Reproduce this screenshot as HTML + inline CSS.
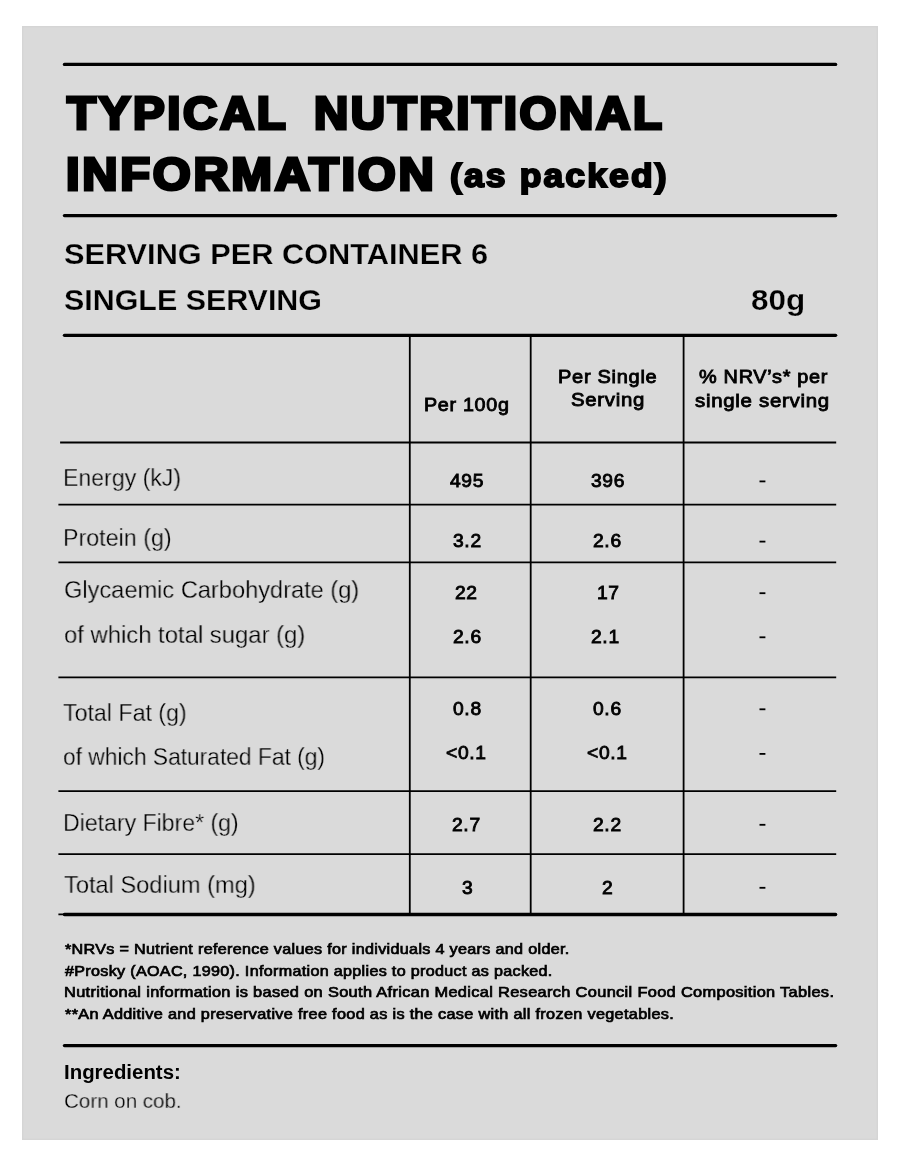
<!DOCTYPE html>
<html lang="en"><head><meta charset="utf-8"><title>Typical Nutritional Information</title>
<style>
html,body{margin:0;padding:0;background:#fff;}
body{width:900px;height:1175px;position:relative;overflow:hidden;font-family:"Liberation Sans",sans-serif;color:#000;}
.panel{position:absolute;left:22px;top:26px;width:855.7px;height:1113.5px;background:#dadada;box-shadow:inset 0 0 0 1.5px #d5d5d5;}
.t{position:absolute;white-space:nowrap;line-height:1;transform-origin:0 0;margin:0;padding:0;will-change:transform;}
.t svg{display:block;overflow:visible;}
.ln{position:absolute;left:0;top:0;}
.h{font-weight:700;letter-spacing:0.055em;word-spacing:0.22em;}
.h2{font-weight:700;letter-spacing:0.06em;}
.m{font-weight:700;-webkit-text-stroke:0.25px #dadada;}
.m2{font-weight:400;-webkit-text-stroke:0.85px #000;letter-spacing:0.035em;}
.m3{font-weight:400;-webkit-text-stroke:0.72px #000;letter-spacing:0.02em;}
.b{font-weight:700;}
.l{font-weight:400;-webkit-text-stroke:0.32px #dadada;}
.l2{font-weight:400;-webkit-text-stroke:0.3px #dadada;}
</style></head><body>
<div class="panel"></div>
<svg class="ln" width="900" height="1175" viewBox="0 0 900 1175">
<g stroke="#000" fill="none" stroke-width="1.80" stroke-linecap="butt">
<line x1="409.80" y1="335" x2="409.80" y2="914.5"/>
<line x1="530.70" y1="335" x2="530.70" y2="914.5"/>
<line x1="683.60" y1="335" x2="683.60" y2="914.5"/>
<line x1="60.10" y1="442.50" x2="836.20" y2="442.50"/>
<line x1="58.40" y1="504.60" x2="836.20" y2="504.60"/>
<line x1="58.40" y1="562.30" x2="836.20" y2="562.30"/>
<line x1="58.40" y1="677.30" x2="836.20" y2="677.30"/>
<line x1="58.40" y1="791.10" x2="836.20" y2="791.10"/>
<line x1="58.40" y1="854.20" x2="836.20" y2="854.20"/>
<line x1="58.40" y1="914.30" x2="836.20" y2="914.30"/>
</g>
<g stroke="#000" fill="none" stroke-width="3.30" stroke-linecap="round">
<line x1="64.45" y1="64.40" x2="835.65" y2="64.40"/>
<line x1="64.45" y1="215.60" x2="835.65" y2="215.60"/>
<line x1="64.45" y1="335.30" x2="835.65" y2="335.30"/>
<line x1="64.45" y1="914.50" x2="835.65" y2="914.50"/>
<line x1="64.45" y1="1045.60" x2="835.65" y2="1045.60"/>
</g>
<g fill="#000">
<rect x="759.5" y="480.50" width="5.9" height="1.8"/>
<rect x="759.5" y="540.70" width="5.9" height="1.8"/>
<rect x="759.5" y="592.30" width="5.9" height="1.8"/>
<rect x="759.5" y="636.40" width="5.9" height="1.8"/>
<rect x="759.5" y="708.40" width="5.9" height="1.8"/>
<rect x="759.5" y="753.00" width="5.9" height="1.8"/>
<rect x="759.5" y="823.90" width="5.9" height="1.8"/>
<rect x="759.5" y="886.90" width="5.9" height="1.8"/>
</g>
</svg>
<div class="t h" style="left:66.92px;top:128.81px;font-size:46.00px;transform:scaleX(1.0328)"><svg width="1" height="1"><text x="0" y="0" stroke="#000" stroke-width="3.2" stroke-linejoin="miter" stroke-miterlimit="3">TYPICAL NUTRITIONAL</text></svg></div>
<div class="t h" style="left:66.31px;top:189.61px;font-size:46.00px;transform:scaleX(1.0618)"><svg width="1" height="1"><text x="0" y="0" stroke="#000" stroke-width="3.2" stroke-linejoin="miter" stroke-miterlimit="3">INFORMATION</text></svg></div>
<div class="t h2" style="left:449.56px;top:187.04px;font-size:33.50px;transform:scaleX(1.0599)"><svg width="1" height="1"><text x="0" y="0" stroke="#000" stroke-width="2.0" stroke-linejoin="miter" stroke-miterlimit="3">(as packed)</text></svg></div>
<div class="t m" style="left:63.73px;top:238.63px;font-size:29.30px;transform:scaleX(1.0488)">SERVING PER CONTAINER 6</div>
<div class="t m" style="left:63.82px;top:285.03px;font-size:29.30px;transform:scaleX(1.0378)">SINGLE SERVING</div>
<div class="t m" style="left:751.37px;top:284.83px;font-size:29.30px;transform:scaleX(1.0730)">80g</div>
<div class="t m2" style="left:423.69px;top:396.00px;font-size:18.50px;transform:scaleX(1.0668)">Per 100g</div>
<div class="t m2" style="left:557.69px;top:368.00px;font-size:18.50px;transform:scaleX(1.0822)">Per Single</div>
<div class="t m2" style="left:570.54px;top:391.00px;font-size:18.50px;transform:scaleX(1.1011)">Serving</div>
<div class="t m2" style="left:698.66px;top:368.00px;font-size:18.50px;transform:scaleX(1.0746)">% NRV’s* per</div>
<div class="t m2" style="left:695.28px;top:392.00px;font-size:18.50px;transform:scaleX(1.1044)">single serving</div>
<div class="t l" style="left:62.73px;top:466.00px;font-size:24.80px;transform:scaleX(0.9310)">Energy (kJ)</div>
<div class="t l" style="left:62.65px;top:526.00px;font-size:24.80px;transform:scaleX(0.9385)">Protein (g)</div>
<div class="t l" style="left:63.71px;top:578.00px;font-size:24.80px;transform:scaleX(0.9520)">Glycaemic Carbohydrate (g)</div>
<div class="t l" style="left:63.68px;top:623.00px;font-size:24.80px;transform:scaleX(0.9618)">of which total sugar (g)</div>
<div class="t l" style="left:62.56px;top:701.00px;font-size:24.80px;transform:scaleX(0.9347)">Total Fat (g)</div>
<div class="t l" style="left:63.43px;top:745.00px;font-size:24.80px;transform:scaleX(0.9182)">of which Saturated Fat (g)</div>
<div class="t l" style="left:62.73px;top:811.00px;font-size:24.80px;transform:scaleX(0.9303)">Dietary Fibre* (g)</div>
<div class="t l" style="left:63.93px;top:873.00px;font-size:24.80px;transform:scaleX(0.9523)">Total Sodium (mg)</div>
<div class="t m2" style="left:450.27px;top:472.00px;font-size:18.50px;transform:scaleX(1.0400)">495</div>
<div class="t m2" style="left:590.60px;top:472.00px;font-size:18.50px;transform:scaleX(1.0400)">396</div>
<div class="t m2" style="left:453.08px;top:532.00px;font-size:18.50px;transform:scaleX(1.0400)">3.2</div>
<div class="t m2" style="left:593.28px;top:532.00px;font-size:18.50px;transform:scaleX(1.0400)">2.6</div>
<div class="t m2" style="left:455.39px;top:584.00px;font-size:18.50px;transform:scaleX(1.0400)">22</div>
<div class="t m2" style="left:597.06px;top:584.00px;font-size:18.50px;transform:scaleX(1.0400)">17</div>
<div class="t m2" style="left:452.76px;top:628.00px;font-size:18.50px;transform:scaleX(1.0400)">2.6</div>
<div class="t m2" style="left:591.45px;top:628.00px;font-size:18.50px;transform:scaleX(1.0400)">2.1</div>
<div class="t m2" style="left:452.82px;top:700.00px;font-size:18.50px;transform:scaleX(1.0400)">0.8</div>
<div class="t m2" style="left:592.74px;top:700.00px;font-size:18.50px;transform:scaleX(1.0400)">0.6</div>
<div class="t m2" style="left:446.41px;top:744.00px;font-size:18.50px;transform:scaleX(1.0400)">&lt;0.1</div>
<div class="t m2" style="left:586.58px;top:744.00px;font-size:18.50px;transform:scaleX(1.0400)">&lt;0.1</div>
<div class="t m2" style="left:452.18px;top:816.00px;font-size:18.50px;transform:scaleX(1.0400)">2.7</div>
<div class="t m2" style="left:592.98px;top:816.00px;font-size:18.50px;transform:scaleX(1.0400)">2.2</div>
<div class="t m2" style="left:461.93px;top:879.00px;font-size:18.50px;transform:scaleX(1.0400)">3</div>
<div class="t m2" style="left:601.79px;top:879.00px;font-size:18.50px;transform:scaleX(1.0400)">2</div>
<div class="t m3" style="left:65.04px;top:942.00px;font-size:14.80px;transform:scaleX(1.0904)">*NRVs = Nutrient reference values for individuals 4 years and older.</div>
<div class="t m3" style="left:65.00px;top:964.00px;font-size:14.80px;transform:scaleX(1.0885)">#Prosky (AOAC, 1990). Information applies to product as packed.</div>
<div class="t m3" style="left:64.12px;top:984.63px;font-size:14.80px;transform:scaleX(1.1066)">Nutritional information is based on South African Medical Research Council Food Composition Tables.</div>
<div class="t m3" style="left:64.50px;top:1007.00px;font-size:14.80px;transform:scaleX(1.0972)">**An Additive and preservative free food as is the case with all frozen vegetables.</div>
<div class="t b" style="left:63.65px;top:1063.00px;font-size:19.60px;transform:scaleX(1.0416)">Ingredients:</div>
<div class="t l2" style="left:63.51px;top:1091.29px;font-size:20.90px;transform:scaleX(0.9835)">Corn on cob.</div>
</body></html>
